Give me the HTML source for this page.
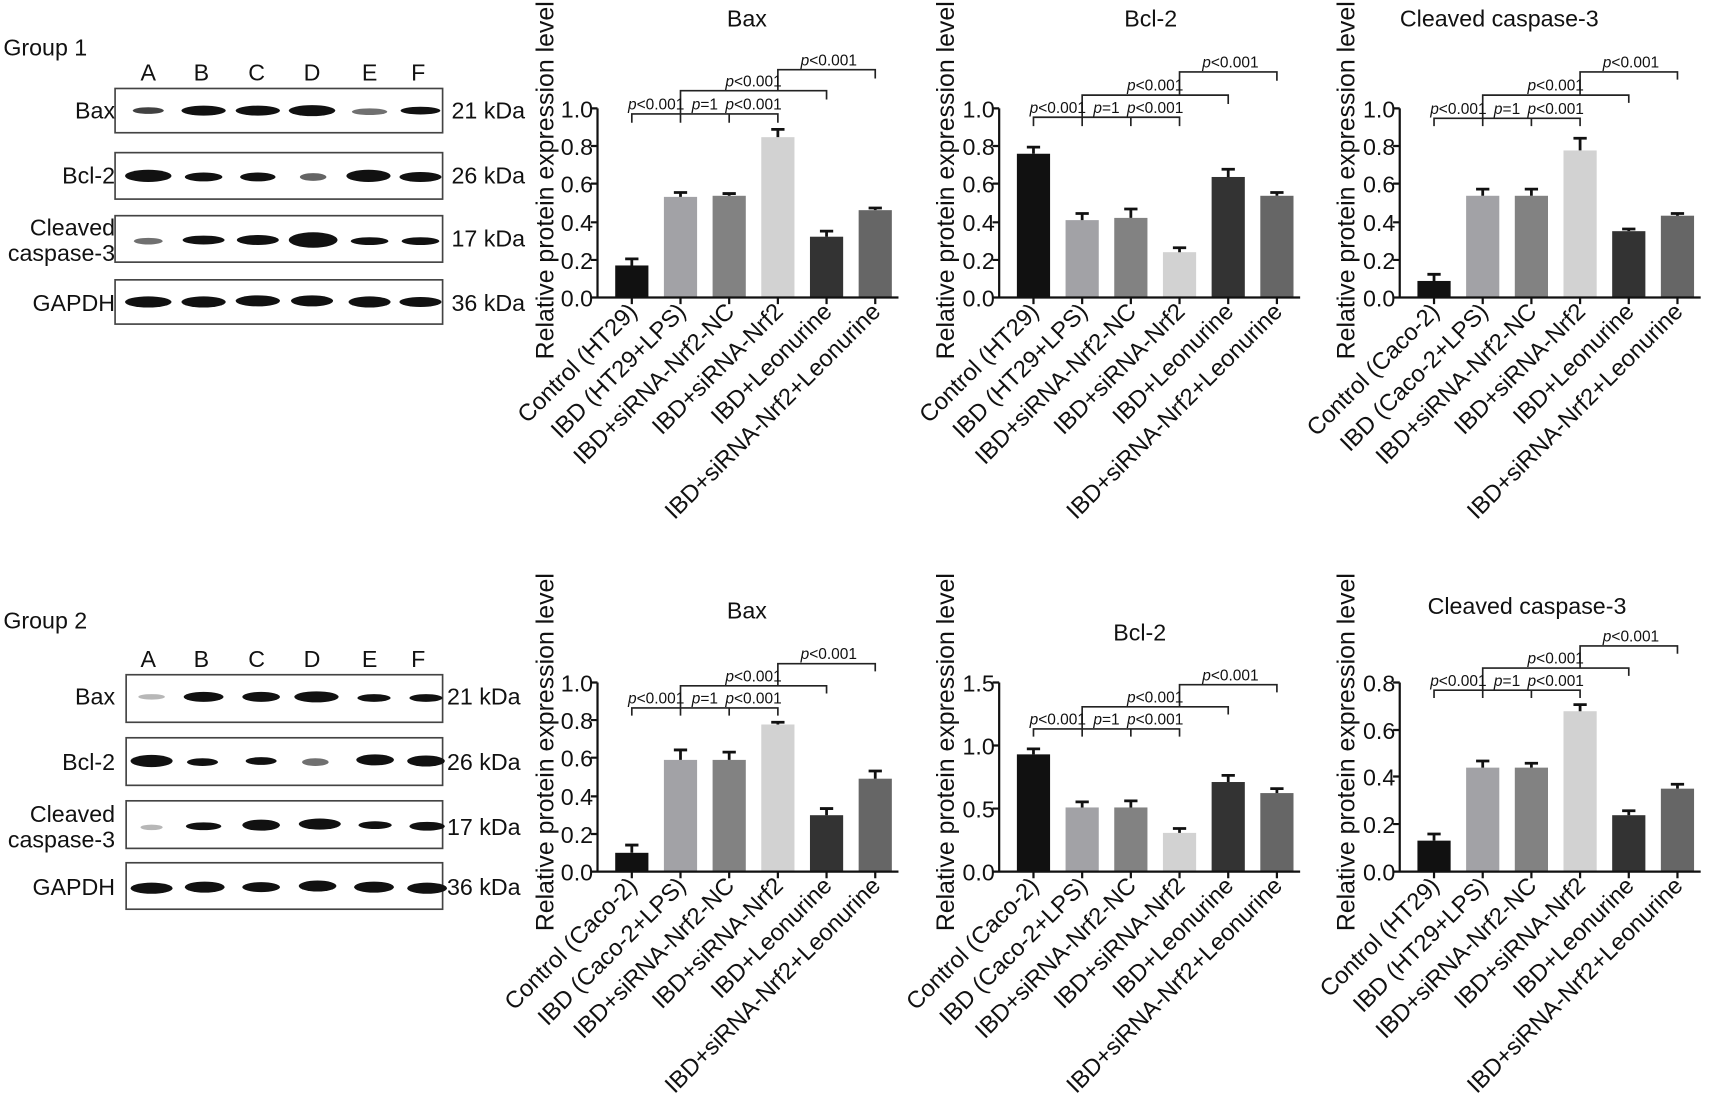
<!DOCTYPE html>
<html><head><meta charset="utf-8"><style>
html,body{margin:0;padding:0;background:#fff;}
svg{display:block;font-family:"Liberation Sans",sans-serif;}
.t{font-size:21px;fill:#111;}
.tk{font-size:21px;fill:#111;text-anchor:end;}
.xl{font-size:21.5px;fill:#111;text-anchor:end;}
.p{font-size:14px;fill:#111;text-anchor:middle;}
.p tspan.i{font-style:italic;}
.ax{stroke:#111;stroke-width:2;fill:none;}
.br{stroke:#222;stroke-width:1.5;fill:none;}
.eb{stroke:#111;stroke-width:2.5;fill:none;}
.bl{fill:none;stroke:#444;stroke-width:1.5;}
.bd{fill:#111;}
</style></head><body>
<svg width="1735" height="1105" viewBox="0 0 1568 999" preserveAspectRatio="none" xmlns="http://www.w3.org/2000/svg">
<rect x="0" y="0" width="1568" height="999" fill="#fff"/>

<text class="t" x="3" y="50">Group 1</text>
<g class="t" text-anchor="middle">
<text x="134" y="73">A</text><text x="182" y="73">B</text><text x="232" y="73">C</text><text x="282" y="73">D</text><text x="334" y="73">E</text><text x="378" y="73">F</text>
</g>
<g class="t" text-anchor="end">
<text x="104" y="107">Bax</text><text x="104" y="166">Bcl-2</text><text x="104" y="213">Cleaved</text><text x="104" y="236">caspase-3</text><text x="104" y="281">GAPDH</text>
</g>
<g class="t"><text x="408" y="107">21 kDa</text><text x="408" y="166">26 kDa</text><text x="408" y="223">17 kDa</text><text x="408" y="281">36 kDa</text></g>
<rect class="bl" x="104" y="80" width="296" height="40"/>
<rect class="bl" x="104" y="138" width="296" height="42"/>
<rect class="bl" x="104" y="195" width="296" height="42"/>
<rect class="bl" x="104" y="253" width="296" height="40"/>
<g class="bd">
<ellipse cx="134" cy="100" rx="14" ry="3" opacity=".8"/><ellipse cx="184" cy="100" rx="20" ry="4.5"/><ellipse cx="233" cy="100" rx="20" ry="4.5"/><ellipse cx="282" cy="100" rx="21" ry="5"/><ellipse cx="334" cy="101" rx="16" ry="3" opacity=".6"/><ellipse cx="380" cy="100" rx="18" ry="3.5"/>
<ellipse cx="134" cy="159" rx="21" ry="5.5"/><ellipse cx="184" cy="160" rx="17" ry="4"/><ellipse cx="233" cy="160" rx="16" ry="4"/><ellipse cx="283" cy="160" rx="12" ry="3.5" opacity=".65"/><ellipse cx="333" cy="159" rx="20" ry="5.5"/><ellipse cx="380" cy="160" rx="19" ry="4.5"/>
<ellipse cx="134" cy="218" rx="13" ry="3" opacity=".6"/><ellipse cx="184" cy="217" rx="19" ry="4"/><ellipse cx="233" cy="217" rx="19" ry="4.5"/><ellipse cx="283" cy="217" rx="22" ry="7"/><ellipse cx="334" cy="218" rx="17" ry="3.5"/><ellipse cx="380" cy="218" rx="17" ry="3.5"/>
<ellipse cx="134" cy="273" rx="21" ry="5"/><ellipse cx="184" cy="273" rx="20" ry="5"/><ellipse cx="233" cy="272" rx="20" ry="5"/><ellipse cx="282" cy="272" rx="19" ry="5"/><ellipse cx="334" cy="273" rx="19" ry="5"/><ellipse cx="380" cy="273" rx="19" ry="4.5"/>
</g>

<text class="t" x="3" y="568">Group 2</text>
<g class="t" text-anchor="middle">
<text x="134" y="603">A</text><text x="182" y="603">B</text><text x="232" y="603">C</text><text x="282" y="603">D</text><text x="334" y="603">E</text><text x="378" y="603">F</text>
</g>
<g class="t" text-anchor="end">
<text x="104" y="637">Bax</text><text x="104" y="696">Bcl-2</text><text x="104" y="743">Cleaved</text><text x="104" y="766">caspase-3</text><text x="104" y="809">GAPDH</text>
</g>
<g class="t"><text x="404" y="637">21 kDa</text><text x="404" y="696">26 kDa</text><text x="404" y="755">17 kDa</text><text x="404" y="809">36 kDa</text></g>
<rect class="bl" x="114" y="610" width="286" height="43"/>
<rect class="bl" x="114" y="667" width="286" height="43"/>
<rect class="bl" x="114" y="724" width="286" height="43"/>
<rect class="bl" x="114" y="780" width="286" height="42"/>
<g class="bd">
<ellipse cx="137" cy="630" rx="12" ry="2.5" opacity=".3"/><ellipse cx="184" cy="630" rx="18" ry="4.5"/><ellipse cx="236" cy="630" rx="17" ry="4.5"/><ellipse cx="286" cy="630" rx="20" ry="5"/><ellipse cx="338" cy="631" rx="15" ry="3.5"/><ellipse cx="385" cy="631" rx="15" ry="3.5"/>
<ellipse cx="137" cy="688" rx="19" ry="5.5"/><ellipse cx="183" cy="689" rx="14" ry="3.5"/><ellipse cx="236" cy="688" rx="14" ry="3.5"/><ellipse cx="285" cy="689" rx="12" ry="3.5" opacity=".6"/><ellipse cx="339" cy="687" rx="17" ry="5"/><ellipse cx="385" cy="688" rx="17" ry="5"/>
<ellipse cx="137" cy="748" rx="10" ry="2.5" opacity=".3"/><ellipse cx="184" cy="747" rx="16" ry="3.5"/><ellipse cx="236" cy="746" rx="17" ry="5"/><ellipse cx="289" cy="745" rx="19" ry="5"/><ellipse cx="339" cy="746" rx="15" ry="3.5"/><ellipse cx="386" cy="747" rx="16" ry="4"/>
<ellipse cx="137" cy="803" rx="19" ry="5"/><ellipse cx="185" cy="802" rx="18" ry="5"/><ellipse cx="236" cy="802" rx="17" ry="4.5"/><ellipse cx="287" cy="801" rx="17" ry="5"/><ellipse cx="338" cy="802" rx="18" ry="5"/><ellipse cx="386" cy="803" rx="18" ry="5"/>
</g>

<g class="t" style="font-size:22.5px" text-anchor="middle">
<text transform="translate(500,163) rotate(-90)">Relative protein expression level</text>
<text transform="translate(862,163) rotate(-90)">Relative protein expression level</text>
<text transform="translate(1224,163) rotate(-90)">Relative protein expression level</text>
<text transform="translate(500,680) rotate(-90)">Relative protein expression level</text>
<text transform="translate(862,680) rotate(-90)">Relative protein expression level</text>
<text transform="translate(1224,680) rotate(-90)">Relative protein expression level</text>
</g>

<g class="t" text-anchor="middle">
<text x="675" y="24">Bax</text><text x="1040" y="24">Bcl-2</text><text x="1355" y="24">Cleaved caspase-3</text>
<text x="675" y="559">Bax</text><text x="1030" y="579">Bcl-2</text><text x="1380" y="555">Cleaved caspase-3</text>
</g>

<g transform="translate(540,269)">
<rect x="16" y="-29" width="30" height="29" fill="#111"/><rect x="60" y="-91" width="30" height="91" fill="#a2a2a6"/><rect x="104" y="-92" width="30" height="92" fill="#828282"/><rect x="148" y="-145" width="30" height="145" fill="#d2d2d2"/><rect x="192" y="-55" width="30" height="55" fill="#333"/><rect x="236" y="-79" width="30" height="79" fill="#666"/>
<path class="eb" d="M31,-29V-35M25,-35H37M75,-91V-95M69,-95H81M119,-92V-94M113,-94H125M163,-145V-152M157,-152H169M207,-55V-60M201,-60H213M251,-79V-81M245,-81H257"/>
<path class="ax" d="M0,0V-171M0,0H272M-6,0H0M-6,-34H0M-6,-68H0M-6,-103H0M-6,-137H0M-6,-171H0M31,0v6M75,0v6M119,0v6M163,0v6M207,0v6M251,0v6"/>
<g class="tk"><text x="-4" y="8">0.0</text><text x="-4" y="-26">0.2</text><text x="-4" y="-60">0.4</text><text x="-4" y="-95">0.6</text><text x="-4" y="-129">0.8</text><text x="-4" y="-163">1.0</text></g>
<path class="br" d="M31,-158V-166H163V-158M75,-166v8M119,-166v8M75,-166V-187H207V-179M163,-187V-206H251V-198"/>
<text class="p" x="53" y="-170"><tspan class="i">p</tspan>&lt;0.001</text><text class="p" x="97" y="-170"><tspan class="i">p</tspan>=1</text><text class="p" x="141" y="-170"><tspan class="i">p</tspan>&lt;0.001</text><text class="p" x="141" y="-191"><tspan class="i">p</tspan>&lt;0.001</text><text class="p" x="209" y="-210"><tspan class="i">p</tspan>&lt;0.001</text>
<g class="xl">
<text transform="translate(37,14) rotate(-45)">Control (HT29)</text><text transform="translate(81,14) rotate(-45)">IBD (HT29+LPS)</text><text transform="translate(125,14) rotate(-45)">IBD+siRNA-Nrf2-NC</text><text transform="translate(169,14) rotate(-45)">IBD+siRNA-Nrf2</text><text transform="translate(213,14) rotate(-45)">IBD+Leonurine</text><text transform="translate(257,14) rotate(-45)">IBD+siRNA-Nrf2+Leonurine</text>
</g>
</g>

<g transform="translate(903,269)">
<rect x="16" y="-130" width="30" height="130" fill="#111"/><rect x="60" y="-70" width="30" height="70" fill="#a2a2a6"/><rect x="104" y="-72" width="30" height="72" fill="#828282"/><rect x="148" y="-41" width="30" height="41" fill="#d2d2d2"/><rect x="192" y="-109" width="30" height="109" fill="#333"/><rect x="236" y="-92" width="30" height="92" fill="#666"/>
<path class="eb" d="M31,-130V-136M25,-136H37M75,-70V-76M69,-76H81M119,-72V-80M113,-80H125M163,-41V-45M157,-45H169M207,-109V-116M201,-116H213M251,-92V-95M245,-95H257"/>
<path class="ax" d="M0,0V-171M0,0H272M-6,0H0M-6,-34H0M-6,-68H0M-6,-103H0M-6,-137H0M-6,-171H0M31,0v6M75,0v6M119,0v6M163,0v6M207,0v6M251,0v6"/>
<g class="tk"><text x="-4" y="8">0.0</text><text x="-4" y="-26">0.2</text><text x="-4" y="-60">0.4</text><text x="-4" y="-95">0.6</text><text x="-4" y="-129">0.8</text><text x="-4" y="-163">1.0</text></g>
<path class="br" d="M31,-155V-163H163V-155M75,-163v8M119,-163v8M75,-163V-183H207V-175M163,-183V-204H251V-196"/>
<text class="p" x="53" y="-167"><tspan class="i">p</tspan>&lt;0.001</text><text class="p" x="97" y="-167"><tspan class="i">p</tspan>=1</text><text class="p" x="141" y="-167"><tspan class="i">p</tspan>&lt;0.001</text><text class="p" x="141" y="-187"><tspan class="i">p</tspan>&lt;0.001</text><text class="p" x="209" y="-208"><tspan class="i">p</tspan>&lt;0.001</text>
<g class="xl">
<text transform="translate(37,14) rotate(-45)">Control (HT29)</text><text transform="translate(81,14) rotate(-45)">IBD (HT29+LPS)</text><text transform="translate(125,14) rotate(-45)">IBD+siRNA-Nrf2-NC</text><text transform="translate(169,14) rotate(-45)">IBD+siRNA-Nrf2</text><text transform="translate(213,14) rotate(-45)">IBD+Leonurine</text><text transform="translate(257,14) rotate(-45)">IBD+siRNA-Nrf2+Leonurine</text>
</g>
</g>

<g transform="translate(1265,269)">
<rect x="16" y="-15" width="30" height="15" fill="#111"/><rect x="60" y="-92" width="30" height="92" fill="#a2a2a6"/><rect x="104" y="-92" width="30" height="92" fill="#828282"/><rect x="148" y="-133" width="30" height="133" fill="#d2d2d2"/><rect x="192" y="-60" width="30" height="60" fill="#333"/><rect x="236" y="-74" width="30" height="74" fill="#666"/>
<path class="eb" d="M31,-15V-21M25,-21H37M75,-92V-98M69,-98H81M119,-92V-98M113,-98H125M163,-133V-144M157,-144H169M207,-60V-62M201,-62H213M251,-74V-76M245,-76H257"/>
<path class="ax" d="M0,0V-171M0,0H272M-6,0H0M-6,-34H0M-6,-68H0M-6,-103H0M-6,-137H0M-6,-171H0M31,0v6M75,0v6M119,0v6M163,0v6M207,0v6M251,0v6"/>
<g class="tk"><text x="-4" y="8">0.0</text><text x="-4" y="-26">0.2</text><text x="-4" y="-60">0.4</text><text x="-4" y="-95">0.6</text><text x="-4" y="-129">0.8</text><text x="-4" y="-163">1.0</text></g>
<path class="br" d="M31,-155V-162H163V-155M75,-162v7M119,-162v7M75,-162V-183H207V-176M163,-183V-204H251V-197"/>
<text class="p" x="53" y="-166"><tspan class="i">p</tspan>&lt;0.001</text><text class="p" x="97" y="-166"><tspan class="i">p</tspan>=1</text><text class="p" x="141" y="-166"><tspan class="i">p</tspan>&lt;0.001</text><text class="p" x="141" y="-187"><tspan class="i">p</tspan>&lt;0.001</text><text class="p" x="209" y="-208"><tspan class="i">p</tspan>&lt;0.001</text>
<g class="xl">
<text transform="translate(37,14) rotate(-45)">Control (Caco-2)</text><text transform="translate(81,14) rotate(-45)">IBD (Caco-2+LPS)</text><text transform="translate(125,14) rotate(-45)">IBD+siRNA-Nrf2-NC</text><text transform="translate(169,14) rotate(-45)">IBD+siRNA-Nrf2</text><text transform="translate(213,14) rotate(-45)">IBD+Leonurine</text><text transform="translate(257,14) rotate(-45)">IBD+siRNA-Nrf2+Leonurine</text>
</g>
</g>

<g transform="translate(540,788)">
<rect x="16" y="-17" width="30" height="17" fill="#111"/><rect x="60" y="-101" width="30" height="101" fill="#a2a2a6"/><rect x="104" y="-101" width="30" height="101" fill="#828282"/><rect x="148" y="-133" width="30" height="133" fill="#d2d2d2"/><rect x="192" y="-51" width="30" height="51" fill="#333"/><rect x="236" y="-84" width="30" height="84" fill="#666"/>
<path class="eb" d="M31,-17V-24M25,-24H37M75,-101V-110M69,-110H81M119,-101V-108M113,-108H125M163,-133V-135M157,-135H169M207,-51V-57M201,-57H213M251,-84V-91M245,-91H257"/>
<path class="ax" d="M0,0V-171M0,0H272M-6,0H0M-6,-34H0M-6,-68H0M-6,-103H0M-6,-137H0M-6,-171H0M31,0v6M75,0v6M119,0v6M163,0v6M207,0v6M251,0v6"/>
<g class="tk"><text x="-4" y="8">0.0</text><text x="-4" y="-26">0.2</text><text x="-4" y="-60">0.4</text><text x="-4" y="-95">0.6</text><text x="-4" y="-129">0.8</text><text x="-4" y="-163">1.0</text></g>
<path class="br" d="M31,-141V-148H163V-141M75,-148v7M119,-148v7M75,-148V-168H207V-161M163,-168V-188H251V-181"/>
<text class="p" x="53" y="-152"><tspan class="i">p</tspan>&lt;0.001</text><text class="p" x="97" y="-152"><tspan class="i">p</tspan>=1</text><text class="p" x="141" y="-152"><tspan class="i">p</tspan>&lt;0.001</text><text class="p" x="141" y="-172"><tspan class="i">p</tspan>&lt;0.001</text><text class="p" x="209" y="-192"><tspan class="i">p</tspan>&lt;0.001</text>
<g class="xl">
<text transform="translate(37,14) rotate(-45)">Control (Caco-2)</text><text transform="translate(81,14) rotate(-45)">IBD (Caco-2+LPS)</text><text transform="translate(125,14) rotate(-45)">IBD+siRNA-Nrf2-NC</text><text transform="translate(169,14) rotate(-45)">IBD+siRNA-Nrf2</text><text transform="translate(213,14) rotate(-45)">IBD+Leonurine</text><text transform="translate(257,14) rotate(-45)">IBD+siRNA-Nrf2+Leonurine</text>
</g>
</g>

<g transform="translate(903,788)">
<rect x="16" y="-106" width="30" height="106" fill="#111"/><rect x="60" y="-58" width="30" height="58" fill="#a2a2a6"/><rect x="104" y="-58" width="30" height="58" fill="#828282"/><rect x="148" y="-35" width="30" height="35" fill="#d2d2d2"/><rect x="192" y="-81" width="30" height="81" fill="#333"/><rect x="236" y="-71" width="30" height="71" fill="#666"/>
<path class="eb" d="M31,-106V-111M25,-111H37M75,-58V-63M69,-63H81M119,-58V-64M113,-64H125M163,-35V-39M157,-39H169M207,-81V-87M201,-87H213M251,-71V-75M245,-75H257"/>
<path class="ax" d="M0,0V-171M0,0H272M-6,0H0M-6,-57H0M-6,-114H0M-6,-171H0M31,0v6M75,0v6M119,0v6M163,0v6M207,0v6M251,0v6"/>
<g class="tk"><text x="-4" y="8">0.0</text><text x="-4" y="-49">0.5</text><text x="-4" y="-106">1.0</text><text x="-4" y="-163">1.5</text></g>
<path class="br" d="M31,-122V-129H163V-122M75,-129v7M119,-129v7M75,-129V-149H207V-142M163,-149V-169H251V-162"/>
<text class="p" x="53" y="-133"><tspan class="i">p</tspan>&lt;0.001</text><text class="p" x="97" y="-133"><tspan class="i">p</tspan>=1</text><text class="p" x="141" y="-133"><tspan class="i">p</tspan>&lt;0.001</text><text class="p" x="141" y="-153"><tspan class="i">p</tspan>&lt;0.001</text><text class="p" x="209" y="-173"><tspan class="i">p</tspan>&lt;0.001</text>
<g class="xl">
<text transform="translate(37,14) rotate(-45)">Control (Caco-2)</text><text transform="translate(81,14) rotate(-45)">IBD (Caco-2+LPS)</text><text transform="translate(125,14) rotate(-45)">IBD+siRNA-Nrf2-NC</text><text transform="translate(169,14) rotate(-45)">IBD+siRNA-Nrf2</text><text transform="translate(213,14) rotate(-45)">IBD+Leonurine</text><text transform="translate(257,14) rotate(-45)">IBD+siRNA-Nrf2+Leonurine</text>
</g>
</g>

<g transform="translate(1265,788)">
<rect x="16" y="-28" width="30" height="28" fill="#111"/><rect x="60" y="-94" width="30" height="94" fill="#a2a2a6"/><rect x="104" y="-94" width="30" height="94" fill="#828282"/><rect x="148" y="-145" width="30" height="145" fill="#d2d2d2"/><rect x="192" y="-51" width="30" height="51" fill="#333"/><rect x="236" y="-75" width="30" height="75" fill="#666"/>
<path class="eb" d="M31,-28V-34M25,-34H37M75,-94V-100M69,-100H81M119,-94V-98M113,-98H125M163,-145V-151M157,-151H169M207,-51V-55M201,-55H213M251,-75V-79M245,-79H257"/>
<path class="ax" d="M0,0V-171M0,0H272M-6,0H0M-6,-43H0M-6,-86H0M-6,-128H0M-6,-171H0M31,0v6M75,0v6M119,0v6M163,0v6M207,0v6M251,0v6"/>
<g class="tk"><text x="-4" y="8">0.0</text><text x="-4" y="-35">0.2</text><text x="-4" y="-78">0.4</text><text x="-4" y="-120">0.6</text><text x="-4" y="-163">0.8</text></g>
<path class="br" d="M31,-157V-164H163V-157M75,-164v7M119,-164v7M75,-164V-184H207V-177M163,-184V-204H251V-197"/>
<text class="p" x="53" y="-168"><tspan class="i">p</tspan>&lt;0.001</text><text class="p" x="97" y="-168"><tspan class="i">p</tspan>=1</text><text class="p" x="141" y="-168"><tspan class="i">p</tspan>&lt;0.001</text><text class="p" x="141" y="-188"><tspan class="i">p</tspan>&lt;0.001</text><text class="p" x="209" y="-208"><tspan class="i">p</tspan>&lt;0.001</text>
<g class="xl">
<text transform="translate(37,14) rotate(-45)">Control (HT29)</text><text transform="translate(81,14) rotate(-45)">IBD (HT29+LPS)</text><text transform="translate(125,14) rotate(-45)">IBD+siRNA-Nrf2-NC</text><text transform="translate(169,14) rotate(-45)">IBD+siRNA-Nrf2</text><text transform="translate(213,14) rotate(-45)">IBD+Leonurine</text><text transform="translate(257,14) rotate(-45)">IBD+siRNA-Nrf2+Leonurine</text>
</g>
</g>
</svg>
</body></html>
